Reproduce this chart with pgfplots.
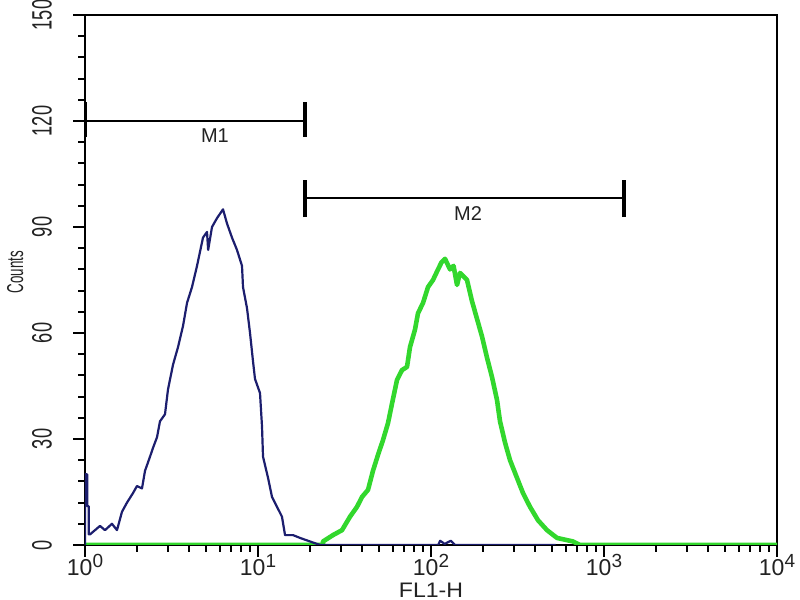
\documentclass[border=0pt]{standalone}
\usepackage{fontspec}
\setmainfont{Liberation Sans}
\usepackage{pgfplots}
\pgfplotsset{compat=1.18}
\definecolor{navy}{RGB}{28,30,110}
\definecolor{flgreen}{RGB}{50,215,45}
\definecolor{lbl}{RGB}{34,34,34}
\newcommand{\dec}[1]{10\raisebox{4pt}{\fontsize{9.5}{9.5}\selectfont #1}}
\begin{document}
\begin{tikzpicture}
\begin{semilogxaxis}[
  scale only axis, width=346pt, height=265pt,
  xmin=1, xmax=10000, ymin=0, ymax=150,
  axis line style={line width=1.2pt, black},
  xtick={1,10,100,1000,10000},
  xticklabels={\dec{0},\dec{1},\dec{2},\dec{3},\dec{4}},
  minor xtick={2,3,4,5,6,7,8,9,20,30,40,50,60,70,80,90,200,300,400,500,600,700,800,900,2000,3000,4000,5000,6000,7000,8000,9000},
  ytick={0,30,60,90,120,150},
  minor ytick={6,12,18,24,36,42,48,54,66,72,78,84,96,102,108,114,126,132,138,144},
  tick align=outside, xtick pos=bottom, ytick pos=left,
  major tick length=6pt, minor tick length=3.5pt,
  tick style={line width=1pt, black},
  xticklabel style={font=\fontsize{11.5}{11.5}\selectfont, text=lbl, yshift=5pt},
  yticklabel={\rotatebox{90}{\scalebox{0.65}[1]{\fontsize{14}{14}\selectfont\pgfmathprintnumber[fixed,precision=0,assume math mode=true]{\tick}}}},
  yticklabel style={text=lbl, anchor=east, xshift=-7pt},
  xlabel={FL1-H},
  xlabel style={font=\fontsize{10.5}{10.5}\selectfont, text=lbl, at={(axis description cs:0.5,-0.085)}, anchor=center, xscale=1.1},
  ylabel={\scalebox{0.58}[1]{\fontsize{11.5}{11.5}\selectfont Counts}},
  ylabel style={at={(axis description cs:-0.101,0.515)}, anchor=center, text=lbl},
]
% green histogram
\addplot[flgreen, line width=2.3pt, line join=round] coordinates {
(1,0) (23.75,0) (23.75,1) (27.13,2.8) (30.59,4.2) (34.02,8) (37.35,10.8) (39.93,13.6)
(43.24,15.6) (46.20,21) (49.39,25.5) (52.79,29.7) (56.43,34.5) (59.51,40) (63.61,46.7)
(68.00,49.5) (72.67,50.4) (75.62,56) (80.83,61) (84.13,65.6) (89.92,68.5) (96.10,73)
(102.7,75) (109.8,78) (115,80) (120.5,81) (128.8,78) (135,79) (141.4,73.6) (147.1,77) (161.5,75)
(172.6,69) (184.5,64) (197.2,59) (210.8,53) (225.3,47.5) (240.8,41) (250.6,35)
(267.8,29) (286.3,24) (314.1,19) (340.2,14.7) (373.5,10.8) (415.5,7) (468.3,4.2)
(535.0,2) (662.0,1) (726.6,0) (10000,0)
};
% blue histogram
\addplot[navy, line width=1.1pt, line join=round] coordinates {
(1.0,0) (1.0,20) (1.03,20) (1.03,11) (1.05,11) (1.05,3)
(1.069,3) (1.221,5.4) (1.305,4.2) (1.432,6) (1.531,4.2) (1.636,9.4) (1.749,12)
(1.895,14.7) (1.998,16.7) (2.135,16) (2.223,21) (2.376,25) (2.473,27.5) (2.608,30.5)
(2.713,35) (2.900,37) (3.018,44) (3.226,51) (3.449,56) (3.687,62) (3.888,68.5)
(4.155,73) (4.442,79) (4.622,83) (4.810,87) (5.073,88.6) (5.15,83.5) (5.422,90)
(5.795,92.5) (6.278,95) (6.620,91) (7.074,87) (7.562,83.5) (8.083,79) (8.191,73)
(8.640,67) (8.993,60) (9.357,52) (9.609,47) (10.27,43) (10.55,33.5) (10.69,25)
(11.43,19) (12.05,13.6) (12.88,10.8) (13.76,8) (14.33,2.8) (15.94,2.8) (17.50,2)
(19.98,1) (22.83,0) (110,0) (113,1.2) (120,0.3) (130,1.2) (138,0) (525,0)
};
% markers
\addplot[black, line width=1.2pt] coordinates {(1,120) (18.7,120)};
\addplot[black, line width=1.6pt] coordinates {(1.005,115.5) (1.005,125.4)};
\addplot[black, line width=1.6pt] coordinates {(18.7,115.5) (18.7,125.4)};
\addplot[black, line width=1.2pt] coordinates {(18.7,98.2) (1305,98.2)};
\addplot[black, line width=1.6pt] coordinates {(18.7,92.8) (18.7,103.3)};
\addplot[black, line width=1.6pt] coordinates {(1305,92.8) (1305,103.3)};
\node[font=\fontsize{10}{10}\selectfont, text=lbl] at (axis cs:5.64,116) {M1};
\node[font=\fontsize{10}{10}\selectfont, text=lbl] at (axis cs:163.7,93.7) {M2};
\end{semilogxaxis}
\pgfresetboundingbox
\path[use as bounding box] ([shift={(-42.5pt,-27.5pt)}]current axis.south west) rectangle ([shift={(11.5pt,7.5pt)}]current axis.north east);
\end{tikzpicture}
\end{document}
